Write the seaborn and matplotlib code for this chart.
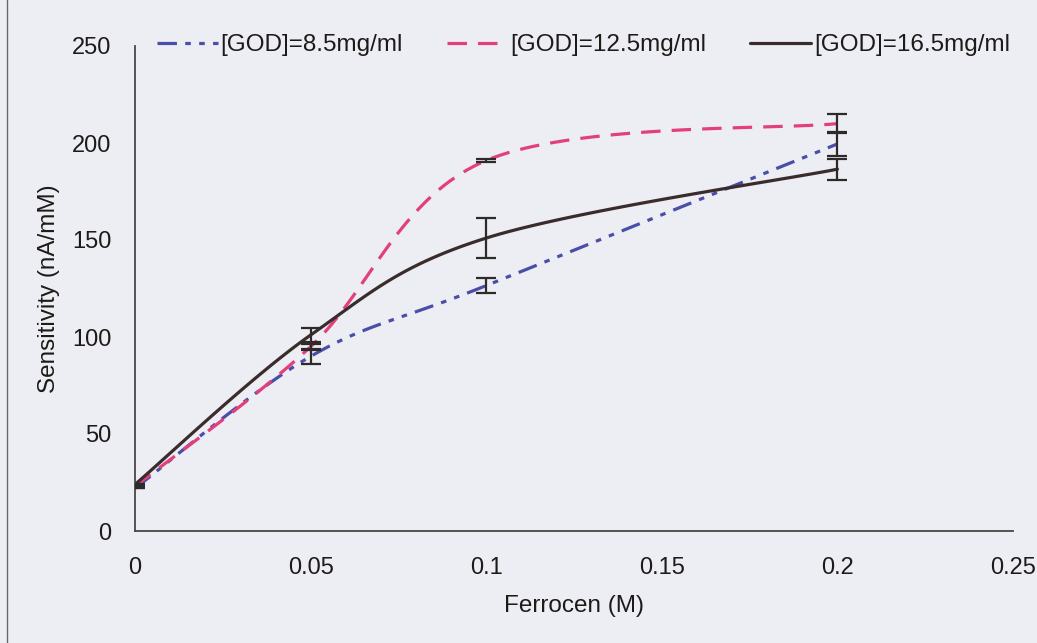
import numpy as np
import pandas as pd
import matplotlib
matplotlib.use("Agg")
import matplotlib.pyplot as plt
import seaborn as sns

# Ferrocene concentration (M) and sensitivity (nA/mM) for each GOD loading
ferrocene = [0.0, 0.05, 0.1, 0.2]
series_names = ["[GOD]=8.5mg/ml", "[GOD]=12.5mg/ml", "[GOD]=16.5mg/ml"]
sens_god_85 = [22, 90, 126.5, 199.5]
sens_god_125 = [23, 95, 191, 210]
sens_god_165 = [24, 101, 151, 186.5]
err_god_85 = [0, 4, 4, 6]
err_god_125 = [0, 1.5, 1, 5]
err_god_165 = [0, 3.5, 10.5, 5.5]

x_ticks = [0, 0.05, 0.1, 0.15, 0.2, 0.25]
x_ticklabels = ["0", "0.05", "0.1", "0.15", "0.2", "0.25"]
y_ticks = [0, 50, 100, 150, 200, 250]

colors = ["#4a4ea8", "#e23f7c", "#3b2c2c"]
dash_patterns = [(14, 6, 4, 6, 4, 6), (14, 8), ""]


def smooth_curve(xs, ys, steps=40):
    """Bezier smoothing through every point (spreadsheet-style smoothed line)."""
    p = np.column_stack([xs, ys]).astype(float)
    ext = np.vstack([p[0], p, p[-1]])
    out = []
    t = np.linspace(0, 1, steps)[:, None]
    for i in range(1, len(ext) - 2):
        p0, p3 = ext[i], ext[i + 1]
        c1 = p0 + (ext[i + 1] - ext[i - 1]) / 6.0
        c2 = p3 - (ext[i + 2] - ext[i]) / 6.0
        seg = ((1 - t) ** 3) * p0 + 3 * ((1 - t) ** 2) * t * c1 \
            + 3 * (1 - t) * t ** 2 * c2 + t ** 3 * p3
        out.append(seg if i == 1 else seg[1:])
    return np.vstack(out)


values = [sens_god_85, sens_god_125, sens_god_165]
errors = [err_god_85, err_god_125, err_god_165]

frames = []
for name, vals in zip(series_names, values):
    curve = smooth_curve(ferrocene, vals)
    frames.append(pd.DataFrame({"Ferrocen": curve[:, 0],
                                "Sensitivity": curve[:, 1],
                                "series": name}))
df = pd.concat(frames, ignore_index=True)

sns.set_theme(style="white")
plt.rcParams["font.family"] = ["Liberation Sans", "DejaVu Sans"]
plt.rcParams["lines.scale_dashes"] = False

bg = "#eceef3"
text_col = "#1e1a1a"
fig = plt.figure(figsize=(10.37, 6.43), dpi=100, facecolor=bg)
ax = fig.add_axes([135 / 1037, 1 - 531 / 643, (1013 - 135) / 1037, (531 - 46) / 643])
ax.set_facecolor(bg)

sns.lineplot(data=df, x="Ferrocen", y="Sensitivity", hue="series",
             hue_order=series_names, palette=colors, units="series",
             estimator=None, sort=False, legend=False, linewidth=2.3, ax=ax)

handles = []
for line, dash, name in zip(ax.lines, dash_patterns, series_names):
    if dash:
        line.set_dashes(dash)
    line.set_dash_capstyle("butt")
    line.set_label(name)
    handles.append(line)

for vals, errs in zip(values, errors):
    ax.errorbar(ferrocene, vals, yerr=errs, fmt="none", ecolor="#2e2a2a",
                elinewidth=1.6, capsize=7, capthick=1.6, zorder=5)

ax.set_xlim(0, 0.25)
ax.set_ylim(0, 250)
ax.set_xticks(x_ticks)
ax.set_xticklabels(x_ticklabels)
ax.set_yticks(y_ticks)

spine_col = "#4a4646"
for side in ["top", "right"]:
    ax.spines[side].set_visible(False)
for side in ["left", "bottom"]:
    ax.spines[side].set_color(spine_col)
    ax.spines[side].set_linewidth(1.3)

ax.tick_params(axis="both", direction="out", length=6, width=1.3,
               color=spine_col, labelsize=17, labelcolor=text_col)
ax.tick_params(axis="x", pad=13)
ax.tick_params(axis="y", pad=11)
ax.set_xlabel("Ferrocen (M)", fontsize=17.5, color=text_col, labelpad=11)
ax.set_ylabel("Sensitivity (nA/mM)", fontsize=17.5, color=text_col, labelpad=9)

fig.legend(handles=handles, labels=series_names, loc="center left",
           bbox_to_anchor=(157 / 1037, 1 - 45 / 643), ncol=3, frameon=False,
           fontsize=17.5, handlelength=2.5, handletextpad=0.12,
           columnspacing=1.8, borderpad=0, borderaxespad=0,
           labelcolor=text_col)

# page edge line on the left
fig.add_artist(plt.Line2D([7 / 1037, 7 / 1037], [0, 1], color="#6a6868",
                          linewidth=1.0, transform=fig.transFigure))

fig.savefig("out.png", dpi=100, facecolor=bg)
